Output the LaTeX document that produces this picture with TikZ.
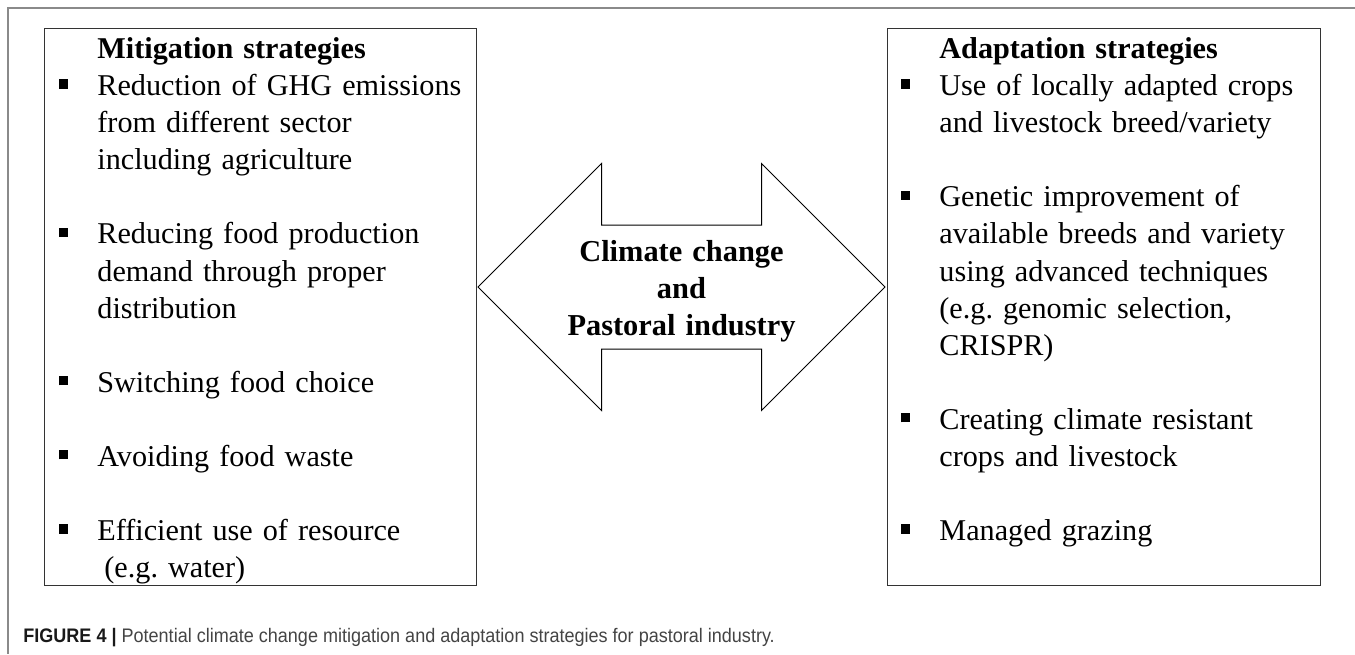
\documentclass[tikz,border=0pt]{standalone}
\usepackage{fontspec}
\setmainfont{Liberation Serif}
\newfontfamily\capfont[FakeStretch=0.92]{Liberation Sans}
\usetikzlibrary{positioning}
\frenchspacing
\definecolor{framegray}{HTML}{8A8A8A}
\definecolor{boxgray}{HTML}{333333}
\definecolor{capgray}{HTML}{444444}
\newcommand{\sqbullet}{\leavevmode\llap{\rule[3.5pt]{4.6pt}{4.6pt}\hspace{14.5pt}}}
\tikzstyle{Strategy_Box} = [rectangle,
                            minimum width=216pt,
                            minimum height=278.5pt,
                            inner sep=0pt,
                            draw=boxgray,
                            line width=0.7pt]
\tikzstyle{Strategy_Text} = [text width=205pt,
                             align=left,
                             inner sep=0pt,
                             font=\fontsize{15.1}{18.54}\selectfont]
\tikzstyle{Center_Text} = [text width=140pt,
                           align=center,
                           inner sep=0pt,
                           font=\fontsize{15.2}{18.6}\selectfont\bfseries]
\tikzstyle{Caption_Text} = [inner sep=0pt,
                            text=black!90,
                            font=\capfont\fontsize{9.8}{12}\selectfont]
\tikzstyle{Arrow_Line} = [draw=black, line width=0.5pt, line join=miter]
\tikzstyle{Frame_Line} = [draw=framegray, line width=0.8pt]

\begin{document}
\begin{tikzpicture}[x=0.5pt, y=-0.5pt]
        \useasboundingbox (0,0) rectangle (1355,654);
        \draw[Frame_Line] (1355,8) -- (8,8) -- (8,654);

        \node (Mit_Box) [Strategy_Box, anchor=north west] at (44,28) {};
        \node (Ada_Box) [Strategy_Box, anchor=north west, minimum width=216.5pt] at (887,28) {};

        \node (Mit_List) [Strategy_Text, below right=2.1pt and 26.5pt of Mit_Box.north west]
              {\strut\textbf{Mitigation strategies}\\
               \sqbullet Reduction of GHG emissions\\
               from different sector\\
               including agriculture\\[18.54pt]
               \sqbullet Reducing food production\\
               demand through proper\\
               distribution\\[18.54pt]
               \sqbullet Switching food choice\\[18.54pt]
               \sqbullet Avoiding food waste\\[18.54pt]
               \sqbullet Efficient use of resource\\
               \hspace*{3.5pt}(e.g. water)};

        \node (Ada_List) [Strategy_Text, below right=2.1pt and 26pt of Ada_Box.north west]
              {\strut\textbf{Adaptation strategies}\\
               \sqbullet Use of locally adapted crops\\
               and livestock breed/variety\\[18.54pt]
               \sqbullet Genetic improvement of\\
               available breeds and variety\\
               using advanced techniques\\
               (e.g. genomic selection,\\
               CRISPR)\\[18.54pt]
               \sqbullet Creating climate resistant\\
               crops and livestock\\[18.54pt]
               \sqbullet Managed grazing};

        % double arrow between the two boxes
        \draw[Arrow_Line] (478,287) -- (601.5,163.5) -- (601.5,225) -- (761.5,225)
              -- (761.5,163.5) -- (885,287) -- (761.5,410.5) -- (761.5,349)
              -- (601.5,349) -- (601.5,410.5) -- cycle;
        \node (CC) [Center_Text] at (681.5,291) {Climate change\\and\\Pastoral industry};

        \node (Caption) [Caption_Text, anchor=base west] at (23,642)
              {\textbf{FIGURE 4 |} \textcolor{capgray}{Potential climate change mitigation and adaptation strategies for pastoral industry.}};
    \end{tikzpicture}
\end{document}
